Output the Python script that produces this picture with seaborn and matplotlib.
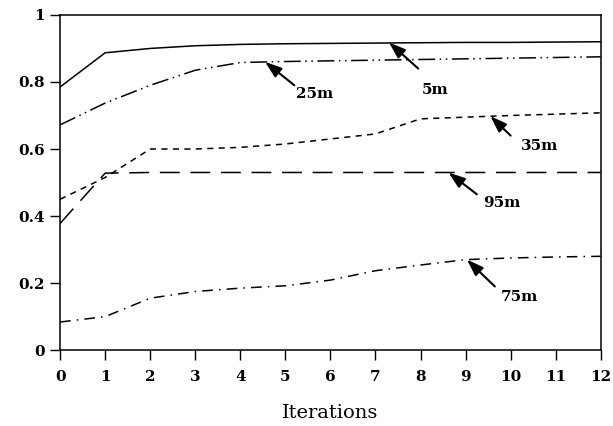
import matplotlib
matplotlib.use("Agg")
import matplotlib.pyplot as plt
import seaborn as sns
import pandas as pd

# values
iterations = list(range(13))
y_5m = [0.785, 0.887, 0.900, 0.908, 0.912, 0.914, 0.915, 0.916, 0.917, 0.918, 0.918, 0.919, 0.920]
y_25m = [0.672, 0.737, 0.790, 0.835, 0.858, 0.861, 0.863, 0.865, 0.867, 0.869, 0.871, 0.873, 0.875]
y_35m = [0.450, 0.515, 0.600, 0.600, 0.605, 0.615, 0.630, 0.645, 0.690, 0.695, 0.700, 0.704, 0.708]
y_95m = [0.378, 0.528, 0.530, 0.530, 0.530, 0.530, 0.530, 0.530, 0.530, 0.530, 0.530, 0.530, 0.530]
y_75m = [0.084, 0.100, 0.155, 0.175, 0.185, 0.192, 0.209, 0.237, 0.254, 0.270, 0.275, 0.278, 0.280]

series = {"5m": y_5m, "25m": y_25m, "35m": y_35m, "95m": y_95m, "75m": y_75m}
styles = {
    "5m": "-",
    "25m": (0, (11, 3, 1, 3, 1, 3)),
    "35m": (0, (4, 3.5)),
    "95m": (0, (13, 7)),
    "75m": (0, (7, 4, 1, 4)),
}

# label text position, arrow tail, arrow tip
labels = {
    "5m": ((8.33, 0.775), (7.95, 0.84), (7.3, 0.918)),
    "25m": ((5.65, 0.765), (5.2, 0.79), (4.55, 0.86)),
    "35m": ((10.65, 0.61), (10.0, 0.64), (9.55, 0.698)),
    "95m": ((9.8, 0.44), (9.25, 0.465), (8.62, 0.53)),
    "75m": ((10.2, 0.16), (9.65, 0.19), (9.03, 0.27)),
}

sns.set_style("ticks")
plt.rcParams["font.family"] = ["DejaVu Serif"]
plt.rcParams["font.weight"] = "bold"
plt.rcParams["text.color"] = "black"
plt.rcParams["axes.labelcolor"] = "black"
plt.rcParams["xtick.color"] = "black"
plt.rcParams["ytick.color"] = "black"

fig = plt.figure(figsize=(6.13, 4.26), dpi=100)
ax = fig.add_axes([0.098, 0.178, 0.882, 0.787])

for name, vals in series.items():
    df = pd.DataFrame({"Iterations": iterations, "val": vals})
    sns.lineplot(data=df, x="Iterations", y="val", ax=ax, color="black",
                 linewidth=1.1, linestyle=styles[name])

for name, (txt, tail, tip) in labels.items():
    ax.text(txt[0], txt[1], name, ha="center", va="center", fontsize=11,
            fontweight="bold", color="black")
    ax.annotate("", xy=tip, xytext=tail,
                arrowprops=dict(arrowstyle="-|>,head_length=1.0,head_width=0.35",
                                color="black", lw=1.5, shrinkA=0, shrinkB=0))

ax.set_xlim(0, 12)
ax.set_ylim(0, 1)
ax.set_xticks(range(13))
ax.set_yticks([0, 0.2, 0.4, 0.6, 0.8, 1])
ax.set_yticklabels(["0", "0.2", "0.4", "0.6", "0.8", "1"])
ax.set_xlabel("Iterations", fontsize=14, fontweight="normal", labelpad=15)
ax.set_ylabel("")
ax.tick_params(axis="x", labelsize=11, length=7, width=1, color="black",
               labelcolor="black", direction="out", pad=7)
ax.tick_params(axis="y", labelsize=11, length=7, width=1, color="black",
               labelcolor="black", direction="out", pad=4)
for sp in ax.spines.values():
    sp.set_color("black")
    sp.set_linewidth(1.1)

fig.savefig("out.png", dpi=100)
